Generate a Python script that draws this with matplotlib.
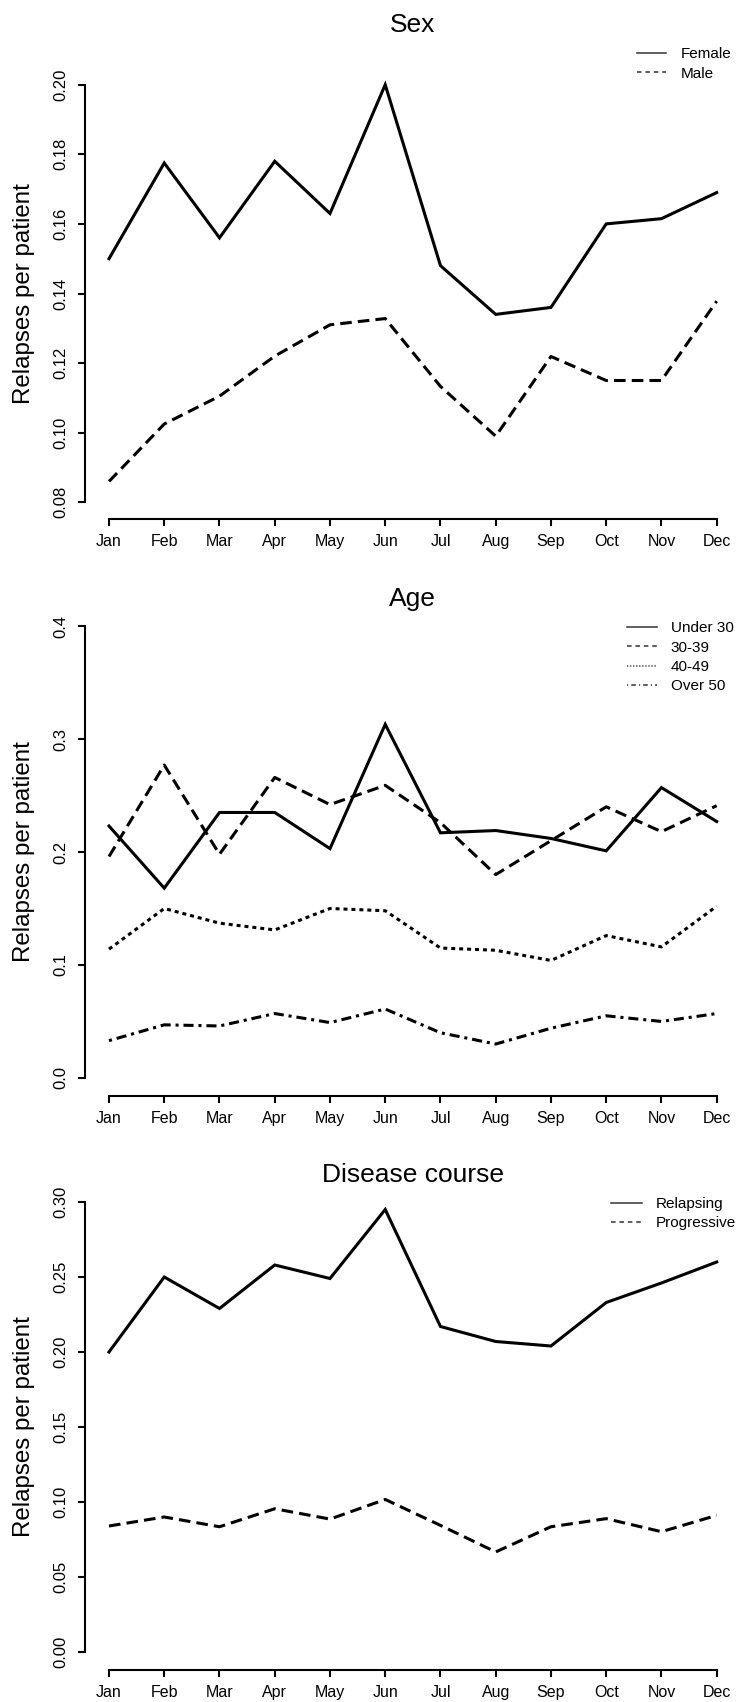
import matplotlib
matplotlib.use('Agg')
import matplotlib.pyplot as plt
from matplotlib.lines import Line2D

plt.rcParams['font.family'] = ['Liberation Sans', 'DejaVu Sans']

# ---------------- data ----------------
months = ['Jan', 'Feb', 'Mar', 'Apr', 'May', 'Jun', 'Jul', 'Aug', 'Sep', 'Oct', 'Nov', 'Dec']
month_pos = [1, 2, 3, 4, 5, 6, 7, 8, 9, 10, 11, 12]

sex_female = [0.150, 0.1775, 0.156, 0.178, 0.163, 0.200, 0.148, 0.134, 0.136, 0.160, 0.1615, 0.169]
sex_male = [0.086, 0.1025, 0.1105, 0.122, 0.131, 0.1328, 0.1133, 0.099, 0.1219, 0.115, 0.115, 0.1378]

age_under30 = [0.223, 0.168, 0.235, 0.235, 0.203, 0.313, 0.217, 0.219, 0.212, 0.201, 0.257, 0.227]
age_30_39 = [0.196, 0.277, 0.198, 0.266, 0.242, 0.259, 0.226, 0.180, 0.210, 0.240, 0.218, 0.241]
age_40_49 = [0.114, 0.150, 0.137, 0.131, 0.150, 0.148, 0.115, 0.113, 0.104, 0.126, 0.116, 0.152]
age_over50 = [0.033, 0.047, 0.046, 0.057, 0.049, 0.061, 0.040, 0.030, 0.044, 0.055, 0.050, 0.057]

course_relapsing = [0.200, 0.250, 0.229, 0.258, 0.249, 0.295, 0.217, 0.207, 0.204, 0.233, 0.246, 0.260]
course_progressive = [0.084, 0.090, 0.0835, 0.0955, 0.0886, 0.1017, 0.0844, 0.0667, 0.0835, 0.0889, 0.0802, 0.0911]

sex_labels = ['Female', 'Male']
age_labels = ['Under 30', '30-39', '40-49', 'Over 50']
course_labels = ['Relapsing', 'Progressive']

sex_yticks = [0.08, 0.10, 0.12, 0.14, 0.16, 0.18, 0.20]
sex_yticklabels = ['0.08', '0.10', '0.12', '0.14', '0.16', '0.18', '0.20']
age_yticks = [0.0, 0.1, 0.2, 0.3, 0.4]
age_yticklabels = ['0.0', '0.1', '0.2', '0.3', '0.4']
course_yticks = [0.00, 0.05, 0.10, 0.15, 0.20, 0.25, 0.30]
course_yticklabels = ['0.00', '0.05', '0.10', '0.15', '0.20', '0.25', '0.30']

titles = ['Sex', 'Age', 'Disease course']
ylabel = 'Relapses per patient'

# ---------------- styles ----------------
W, H = 750, 1702
fig = plt.figure(figsize=(W / 100, H / 100), dpi=100)

L_px, R_px = 84.7, 741.0
LW = 2.2
styles = {
    'solid': dict(linestyle='-'),
    'dash': dict(linestyle=(0, (3.8, 2.0))),
    'dot': dict(linestyle=(0, (1.3, 1.3))),
    'dotdash': dict(linestyle=(0, (1.0, 1.6, 3.3, 1.6))),
}
leg_styles = {
    'solid': dict(linestyle='-'),
    'dash': dict(linestyle=(0, (3.0, 2.5))),
    'dot': dict(linestyle=(0, (0.8, 1.2))),
    'dotdash': dict(linestyle=(0, (0.8, 2.0, 3.0, 2.0))),
}


def rect(top, bottom):
    return [L_px / W, 1 - bottom / H, (R_px - L_px) / W, (bottom - top) / H]


def make_panel(top, bottom, series, names, kinds, yticks, yticklabels, title,
               title_base, leg_x, leg_y, handle_len, text_pad):
    ax = fig.add_axes(rect(top, bottom))
    for vals, kind in zip(series, kinds):
        ax.plot(month_pos, vals, color='black', lw=LW, solid_joinstyle='miter',
                dash_capstyle='butt', **styles[kind])
    ymin, ymax = yticks[0], yticks[-1]
    ext = 0.04 * (ymax - ymin)
    ax.set_ylim(ymin - ext, ymax + ext)
    ax.set_xlim(1 - 0.44, 12 + 0.44)
    for s in ['top', 'right']:
        ax.spines[s].set_visible(False)
    ax.spines['left'].set_bounds(ymin, ymax)
    ax.spines['bottom'].set_bounds(1, 12)
    for s in ['left', 'bottom']:
        ax.spines[s].set_linewidth(1.5)
    ax.set_xticks(month_pos)
    ax.set_xticklabels(months, fontsize=11.5)
    ax.set_yticks(yticks)
    ax.set_yticklabels(yticklabels, fontsize=12, rotation=90, va='center')
    ax.tick_params(axis='both', direction='out', length=5, width=1.5)
    ax.tick_params(axis='y', pad=6.5)
    ax.tick_params(axis='x', pad=5.5)
    fig.text((L_px + R_px) / 2 / W, 1 - title_base / H, title, ha='center',
             va='baseline', fontsize=19)
    fig.text(24 / W, 1 - (top + bottom) / 2 / H, ylabel, rotation=90,
             ha='center', va='center', fontsize=17.4)
    handles = [Line2D([], [], color='#333333', lw=1.1, dash_capstyle='butt',
                      **leg_styles[k]) for k in kinds]
    ax.legend(handles, names, loc='upper left',
              bbox_to_anchor=(leg_x / W, 1 - leg_y / H),
              bbox_transform=fig.transFigure, frameon=False, fontsize=11,
              handlelength=handle_len, handletextpad=text_pad, borderpad=0,
              borderaxespad=0, labelspacing=0.36)
    return ax


make_panel(68, 519, [sex_female, sex_male], sex_labels, ['solid', 'dash'],
           sex_yticks, sex_yticklabels, titles[0], 32, 637, 47, 1.9, 0.95)
make_panel(608, 1096, [age_under30, age_30_39, age_40_49, age_over50], age_labels,
           ['solid', 'dash', 'dot', 'dotdash'], age_yticks, age_yticklabels,
           titles[1], 606, 627, 621, 1.95, 0.9)
make_panel(1184, 1670, [course_relapsing, course_progressive], course_labels,
           ['solid', 'dash'], course_yticks, course_yticklabels, titles[2], 1182,
           611, 1197, 2.0, 0.9)

fig.savefig('out.png', dpi=100)
